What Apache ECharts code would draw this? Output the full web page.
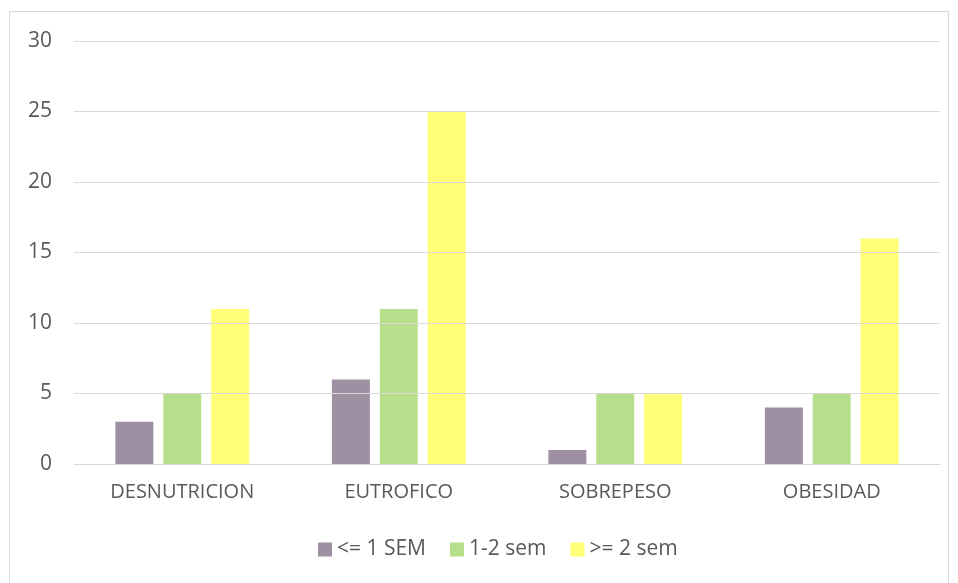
<!DOCTYPE html>
<html>
<head>
<meta charset="utf-8">
<script src="https://cdn.jsdelivr.net/npm/echarts@6/dist/echarts.min.js"></script>
<style>
  html, body { margin: 0; padding: 0; background: #fff; }
  #frame { position: absolute; left: 9px; top: 11px; width: 940px; height: 600px; border: 1px solid #d9d9d9; box-sizing: border-box; }
  #chart { position: absolute; left: 0; top: 0; width: 958px; height: 583px; }
</style>
</head>
<body>
<div id="frame"></div>
<div id="chart"></div>
<script>
const categories = ['DESNUTRICION', 'EUTROFICO', 'SOBREPESO', 'OBESIDAD'];
const seriesNames = ['<= 1 SEM', '1-2 sem', '>= 2 sem'];
const lessOneWeek = [3, 6, 1, 4];
const oneToTwoWeeks = [5, 11, 5, 5];
const twoWeeksOrMore = [11, 25, 5, 16];
const yTicks = { min: 0, max: 30, interval: 5 };

const colors = ['#9e90a2', '#b7df8b', '#ffff78'];
const font = '"Open Sans", "Liberation Sans", sans-serif';

const chart = echarts.init(document.getElementById('chart'), null, { renderer: 'canvas' });
const values = [lessOneWeek, oneToTwoWeeks, twoWeeksOrMore];

chart.setOption({
  animation: false,
  backgroundColor: 'transparent',
  color: colors,
  grid: { left: 74, right: 18, top: 41, bottom: 119, containLabel: false },
  legend: {
    top: 534,
    left: 313,
    itemWidth: 14,
    itemHeight: 14,
    itemGap: 24,
    icon: 'rect',
    textStyle: { color: '#595959', fontSize: 21, fontFamily: font },
    data: seriesNames
  },
  xAxis: {
    type: 'category',
    data: categories,
    z: 3,
    axisLine: { show: true, lineStyle: { color: '#d9d9d9', width: 1 } },
    axisTick: { show: false },
    axisLabel: { color: '#595959', fontSize: 20, fontFamily: font, margin: 18 }
  },
  yAxis: {
    type: 'value',
    min: yTicks.min,
    max: yTicks.max,
    interval: yTicks.interval,
    z: 3,
    axisLine: { show: false },
    axisTick: { show: false },
    axisLabel: { color: '#595959', fontSize: 21, fontFamily: font, margin: 22 },
    splitLine: { lineStyle: { color: '#d9d9d9', width: 1 } }
  },
  series: seriesNames.map((name, i) => ({
    name,
    type: 'bar',
    data: values[i],
    barWidth: 38,
    barGap: '26%',
    itemStyle: { color: colors[i] }
  }))
});
</script>
</body>
</html>
